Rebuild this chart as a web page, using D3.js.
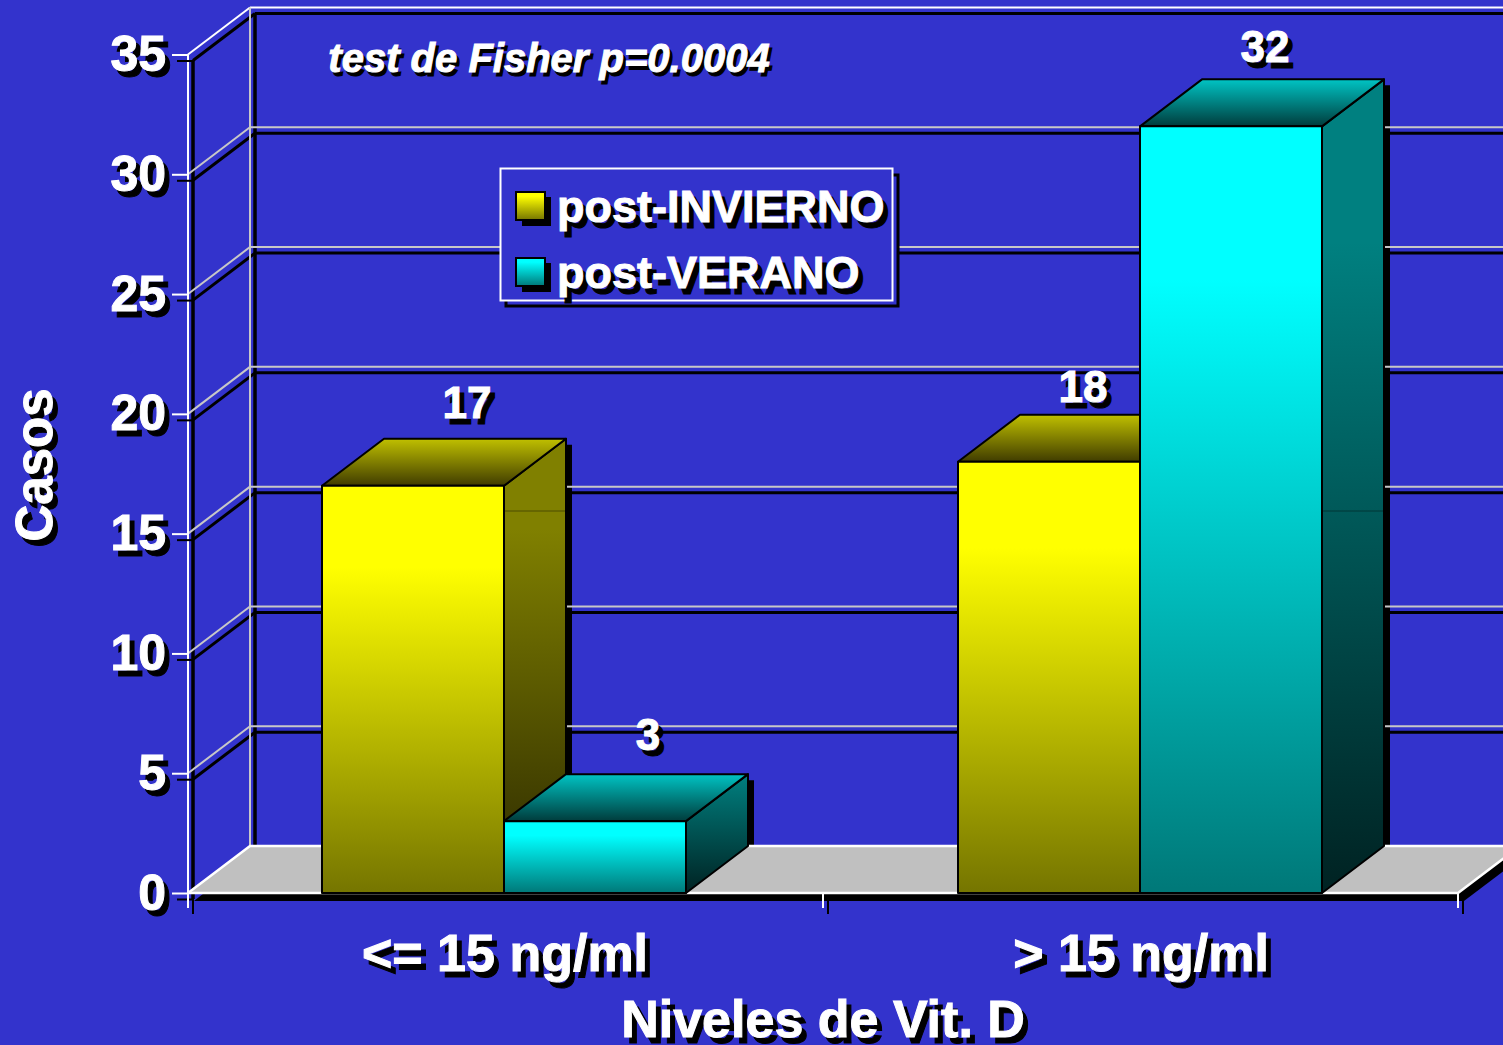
<!DOCTYPE html>
<html>
<head>
<meta charset="utf-8">
<script src="https://cdn.jsdelivr.net/npm/d3@7"></script>
<style>
html, body { margin: 0; padding: 0; background: #3333cc; overflow: hidden; }
svg { display: block; }
text { font-family: "Liberation Sans", Arial, sans-serif; font-weight: bold; }
</style>
</head>
<body>
<svg id="chart"></svg>
<script>
var width = 1503;
var height = 1045;

var categories = ["<= 15 ng/ml", "> 15 ng/ml"];
var seriesNames = ["post-INVIERNO", "post-VERANO"];
var invierno = [17, 18];
var verano = [3, 32];
var yTicks = [0, 5, 10, 15, 20, 25, 30, 35];

var bgColor = "#3333cc";
var dx = 62, dy = -47;     // depth of the 3d box
var sx = 6, sy = 6;        // drop shadow offset
var x0 = 188, x1 = 1458, y0 = 893, yTop = 54.5;

var svg = d3.select("#chart").attr("width", width).attr("height", height);
var defs = svg.append("defs");

var y = d3.scaleLinear().domain([0, 35]).range([y0, yTop]);
var xCat = d3.scaleBand().domain(categories).range([x0, x1 + 2]);
var xSer = d3.scaleBand().domain(seriesNames).range([134, 498]);

// gradient stays on c1 until "flat", then fades to c2
function grad(id, c1, c2, a, b, flat) {
	var g = defs.append("linearGradient").attr("id", id)
		.attr("gradientUnits", "userSpaceOnUse")
		.attr("x1", 0).attr("x2", 0).attr("y1", a).attr("y2", b);
	g.append("stop").attr("offset", 0).attr("stop-color", c1);
	g.append("stop").attr("offset", flat || 0).attr("stop-color", c1);
	g.append("stop").attr("offset", 1).attr("stop-color", c2);
}

var palette = {
	"post-INVIERNO": { front: ["#ffff00", "#757500"], top: ["#c0c000", "#403c00"], side: ["#808000", "#2b2800"] },
	"post-VERANO": { front: ["#00ffff", "#007878"], top: ["#00c4c4", "#003c3c"], side: ["#008080", "#002222"] }
};

var bars = [];
categories.forEach(function (c, i) {
	bars.push({ id: "b" + i + "a", cat: c, ser: seriesNames[0], value: invierno[i], group: i });
	bars.push({ id: "b" + i + "b", cat: c, ser: seriesNames[1], value: verano[i], group: i });
});
bars.forEach(function (d) {
	d.x = xCat(d.cat) + xSer(d.ser);
	d.w = xSer.bandwidth();
	d.top = y(d.value);
	var p = palette[d.ser];
	grad(d.id + "f", p.front[0], p.front[1], d.top, y0, 0.2);
	grad(d.id + "t", p.top[0], p.top[1], d.top + dy, d.top);
	grad(d.id + "s", p.side[0], p.side[1], d.top + dy, y0, d.value > 5 ? 0.2 : 0);
});

function poly(pts) { return pts.map(function (p) { return p.join(","); }).join(" "); }

// black back layer: wall and grid shadow
var shadow = svg.append("g").attr("fill", "none").attr("stroke", "#000");
function wallLines(g, off) {
	yTicks.forEach(function (t) {
		if (t === 0) return;
		var yy = y(t);
		g.append("line").attr("x1", x0 + off.x).attr("y1", yy + off.y)
			.attr("x2", x0 + dx + off.x).attr("y2", yy + dy + off.y)
			.attr("stroke-width", off.w).attr("stroke", t === 35 ? off.top : off.c);
		g.append("line").attr("x1", x0 + dx + off.x).attr("y1", yy + dy + off.y)
			.attr("x2", width + 20).attr("y2", yy + dy + off.y)
			.attr("stroke-width", off.w).attr("stroke", t === 35 ? off.top : off.c);
	});
	g.append("line").attr("x1", x0 + off.x).attr("x2", x0 + off.x)
		.attr("y1", yTop + off.y).attr("y2", y0 + off.y).attr("stroke-width", off.v).attr("stroke", off.top);
	g.append("line").attr("x1", x0 + dx + off.x).attr("x2", x0 + dx + off.x)
		.attr("y1", yTop + dy + off.y).attr("y2", y0 + dy + off.y).attr("stroke-width", off.v).attr("stroke", off.c);
}
wallLines(shadow, { x: sx - 1, y: sy, w: 3, v: 3.5, c: "#000", top: "#000" });

// floor shadow
svg.append("polygon").attr("fill", "#000").attr("points", poly([
	[x0 + sx, y0 + sy + 2], [x1 + sx, y0 + sy + 2], [x1 + dx + sx, y0 + dy + sy + 2], [x0 + dx + sx, y0 + dy + sy]
]));

// bar shadows
var barShadow = svg.append("g").attr("fill", "#000");
bars.forEach(function (d) {
	barShadow.append("polygon").attr("points", poly([
		[d.x + sx, y0 + sy], [d.x + d.w + sx, y0 + sy], [d.x + d.w + dx + sx, y0 + dy + sy],
		[d.x + d.w + dx + sx, d.top + dy + sy], [d.x + dx + sx, d.top + dy + sy], [d.x + sx, d.top + sy]
	]));
});

// white wall and grid lines
var walls = svg.append("g").attr("fill", "none");
wallLines(walls, { x: 0, y: 0, w: 2, v: 2, c: "#c8c8c8", top: "#ffffff" });

// floor
svg.append("polygon").attr("fill", "#c0c0c0").attr("points", poly([
	[x0, y0], [x1, y0], [x1 + dx, y0 + dy], [x0 + dx, y0 + dy]
]));
svg.append("polyline").attr("fill", "none").attr("stroke", "#fff").attr("stroke-width", 2.5)
	.attr("points", poly([[x0, y0], [x0 + dx, y0 + dy], [x1 + dx, y0 + dy]]));
svg.append("polyline").attr("fill", "none").attr("stroke", "#fff").attr("stroke-width", 2.5)
	.attr("points", poly([[x0, y0], [x1, y0], [x1 + dx, y0 + dy]]));

// 3d bars
var barG = svg.append("g").attr("stroke", "#000").attr("stroke-width", 2).attr("stroke-linejoin", "round");
bars.forEach(function (d) {
	barG.append("polygon").attr("fill", "url(#" + d.id + "s)").attr("points", poly([
		[d.x + d.w, y0], [d.x + d.w + dx, y0 + dy], [d.x + d.w + dx, d.top + dy], [d.x + d.w, d.top]
	]));
	// seam in the side shading of the tall bars
	if (d.top + dy < 511 && d.top < 511) {
		barG.append("line").attr("x1", d.x + d.w).attr("x2", d.x + d.w + dx)
			.attr("y1", 511).attr("y2", 511).attr("stroke-width", 1).attr("stroke-opacity", 0.4);
	}
	barG.append("polygon").attr("fill", "url(#" + d.id + "t)").attr("points", poly([
		[d.x, d.top], [d.x + d.w, d.top], [d.x + d.w + dx, d.top + dy], [d.x + dx, d.top + dy]
	]));
	barG.append("rect").attr("fill", "url(#" + d.id + "f)")
		.attr("x", d.x).attr("y", d.top).attr("width", d.w).attr("height", y0 - d.top);
});

// text with its hard black shadow
function label(g, x, yy, str, size, opts) {
	opts = opts || {};
	var off = opts.off || 5;
	var tr = opts.rotate ? " rotate(-90)" : "";
	[["#000", off, off + 1], ["#fff", 0, 0]].forEach(function (s) {
		g.append("text")
			.attr("transform", "translate(" + (x + s[1]) + "," + (yy + s[2]) + ")" + tr)
			.attr("text-anchor", opts.anchor || "middle")
			.style("font-size", size + "px")
			.style("font-style", opts.italic ? "italic" : "normal")
			.style("stroke", s[0])
			.style("stroke-width", opts.sw === undefined ? 1 : opts.sw)
			.style("fill", s[0])
			.text(str);
	});
}

// axes, drawn twice for the shadow
function drawAxes(color, ox, oy) {
	var left = d3.axisLeft(y).tickValues(yTicks).tickSize(16).tickPadding(6);
	var ga = svg.append("g").attr("transform", "translate(" + (x0 + ox) + "," + oy + ")").call(left);
	ga.select(".domain").remove();
	ga.selectAll("line").attr("stroke", color).attr("stroke-width", 2);
	ga.selectAll("text")
		.attr("fill", color).attr("stroke", color).attr("stroke-width", 1)
		.style("font-size", "50px").style("font-family", "Liberation Sans").style("font-weight", "bold");

	var xEdges = d3.scaleLinear().domain([0, categories.length]).range([x0, x1]);
	var bottom = d3.axisBottom(xEdges).ticks(categories.length).tickSize(15).tickFormat("").offset(0);
	var gb = svg.append("g").attr("transform", "translate(" + ox + "," + (y0 + oy) + ")").call(bottom);
	gb.select(".domain").remove();
	gb.selectAll("line").attr("stroke", color).attr("stroke-width", 2);
}
drawAxes("#000", 5, 6);
drawAxes("#fff", 0, 0);

// value labels sit by hand in the original, not centred on the box
var labelNudgeX = [-8, -9, -28, -28];
var labelNudgeY = [-21, -24, -13, -17];
var labels = svg.append("g");
bars.forEach(function (d, i) {
	label(labels, d.x + d.w / 2 + dx + labelNudgeX[i], d.top + dy + labelNudgeY[i], d.value, 44, { sw: 1 });
});

// texts
var texts = svg.append("g");
label(texts, 549, 72, "test de Fisher p=0.0004", 40, { italic: true, off: 3 });
categories.forEach(function (c) {
	label(texts, xCat(c) + xCat.bandwidth() / 2 - 1, 971, c, 52, {});
});
label(texts, 823, 1037, "Niveles de Vit. D", 52, {});
label(texts, 52, 465, "Casos", 51, { rotate: true });

// legend
var legend = svg.append("g");
legend.append("rect").attr("x", 506).attr("y", 175).attr("width", 392).attr("height", 131)
	.attr("fill", bgColor).attr("stroke", "#000").attr("stroke-width", 3);
legend.append("rect").attr("x", 500.5).attr("y", 168.5).attr("width", 392).attr("height", 132)
	.attr("fill", bgColor).attr("stroke", "#fff").attr("stroke-width", 2);
var legendY = d3.scalePoint().domain(seriesNames).range([206, 272]);
seriesNames.forEach(function (s, i) {
	var ly = legendY(s);
	grad("lg" + i, palette[s].front[0], palette[s].front[1], ly - 14, ly + 14, 0.15);
	legend.append("rect").attr("x", 522).attr("y", ly - 9).attr("width", 29).attr("height", 29).attr("fill", "#000");
	legend.append("rect").attr("x", 516).attr("y", ly - 14).attr("width", 29).attr("height", 28)
		.attr("fill", "url(#lg" + i + ")").attr("stroke", "#000").attr("stroke-width", 2);
	label(legend, 557, ly + 16, s, 45, { anchor: "start", off: 5 });
});
</script>
</body>
</html>
